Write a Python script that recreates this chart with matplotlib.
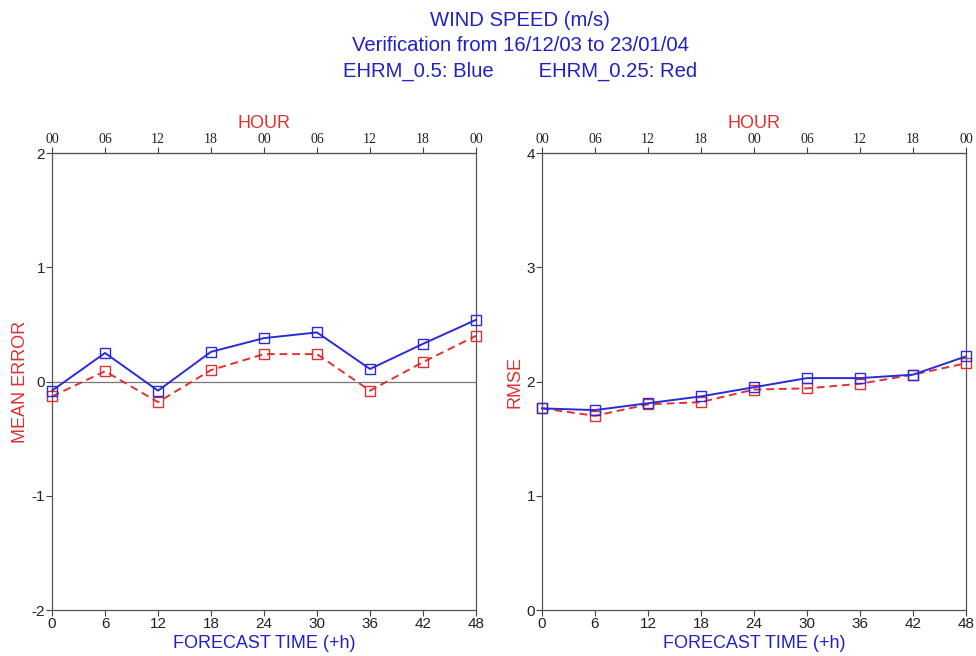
import numpy as np
import matplotlib
matplotlib.use("Agg")
import matplotlib.pyplot as plt

plt.rcParams['font.family'] = ['Liberation Sans', 'DejaVu Sans']

# forecast steps (+h)
steps = [0, 6, 12, 18, 24, 30, 36, 42, 48]
hour_labels = ['00', '06', '12', '18', '00', '06', '12', '18', '00']

# mean error
me_blue = [-0.08, 0.25, -0.08, 0.26, 0.38, 0.43, 0.11, 0.33, 0.54]
me_red = [-0.13, 0.09, -0.18, 0.10, 0.24, 0.24, -0.08, 0.17, 0.40]

# rmse
rmse_blue = [1.765, 1.75, 1.81, 1.87, 1.95, 2.03, 2.03, 2.06, 2.22]
rmse_red = [1.765, 1.70, 1.80, 1.82, 1.93, 1.94, 1.98, 2.06, 2.16]

blue = '#2a2ad8'
red = '#e03030'
title_blue = '#2020c8'

fig = plt.figure(figsize=(9.76, 6.56), dpi=100)
ax1 = fig.add_axes([0.0533, 0.0701, 0.4344, 0.6966])
ax2 = fig.add_axes([0.5553, 0.0701, 0.4344, 0.6966])


def style_axes(ax, ylim, yticks, ylabel):
    ax.set_xlim(0, 48)
    ax.set_ylim(*ylim)
    ax.set_xticks(steps)
    ax.set_xticklabels([str(s) for s in steps], fontsize=11, color='#222222')
    ax.set_yticks(yticks)
    ax.set_yticklabels([str(t) for t in yticks], fontsize=11, color='#222222')
    ax.tick_params(axis='both', direction='out', length=4, width=0.8,
                   color='#444444', pad=1)
    for sp in ax.spines.values():
        sp.set_color('#555555')
        sp.set_linewidth(0.9)
    ax.set_xlabel('FORECAST TIME (+h)', color=title_blue, fontsize=13, labelpad=3)
    ax.set_ylabel(ylabel, color=red, fontsize=13, labelpad=2)

    top = ax.secondary_xaxis('top')
    top.set_xticks(steps)
    top.set_xticklabels(hour_labels, fontsize=10, family='Liberation Serif',
                        color='#222222')
    top.tick_params(direction='out', length=4, width=0.8, color='#444444', pad=1)
    top.spines['top'].set_color('#555555')
    top.set_xlabel('HOUR', color=red, fontsize=13, labelpad=4)


style_axes(ax1, (-2, 2), [-2, -1, 0, 1, 2], 'MEAN ERROR')
ax1.axhline(0, color='#777777', lw=0.9)
ax1.plot(steps, me_blue, color=blue, lw=1.4, marker='s', ms=7,
         mfc='none', mec=blue, mew=1.0, clip_on=False, zorder=4)
ax1.plot(steps, me_red, color=red, lw=1.4, ls=(0, (4, 2.5)), marker='s', ms=7,
         mfc='none', mec=red, mew=1.0, clip_on=False, zorder=3)

style_axes(ax2, (0, 4), [0, 1, 2, 3, 4], 'RMSE')
ax2.plot(steps, rmse_blue, color=blue, lw=1.4, marker='s', ms=7,
         mfc='none', mec=blue, mew=1.0, clip_on=False, zorder=4)
ax2.plot(steps, rmse_red, color=red, lw=1.4, ls=(0, (4, 2.5)), marker='s', ms=7,
         mfc='none', mec=red, mew=1.0, clip_on=False, zorder=3)

tx = 0.533
fig.text(tx, 0.969, 'WIND SPEED (m/s)', ha='center', va='center',
         color=title_blue, fontsize=14.6)
fig.text(tx, 0.930, 'Verification from 16/12/03 to 23/01/04', ha='center',
         va='center', color=title_blue, fontsize=14.6)
fig.text(tx, 0.891, 'EHRM_0.5: Blue        EHRM_0.25: Red', ha='center',
         va='center', color=title_blue, fontsize=14.6)

fig.savefig('out.png', dpi=100)
